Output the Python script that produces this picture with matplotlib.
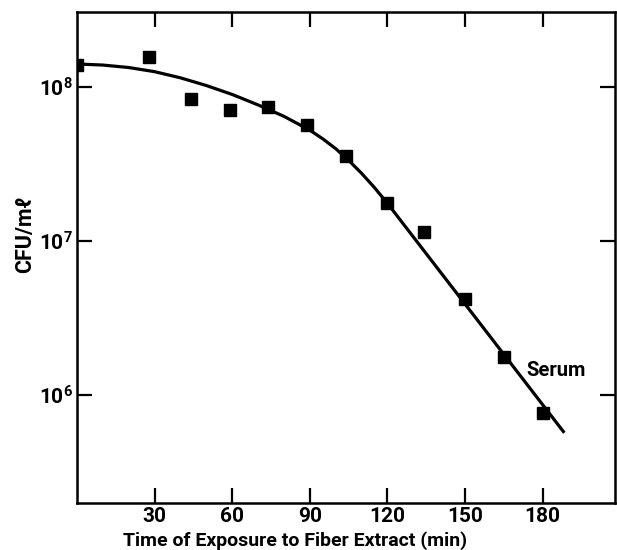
import numpy as np
import matplotlib
matplotlib.use('Agg')
import matplotlib.pyplot as plt

time_pts = [0, 28, 44, 59, 74, 89, 104, 120, 134, 150, 165, 180]
cfu_pts = [1.39e8, 1.57e8, 8.4e7, 7.1e7, 7.4e7, 5.66e7, 3.56e7, 1.77e7, 1.14e7, 4.2e6, 1.77e6, 7.6e5]

# fitted curve (log10 CFU/ml)
curve_t = [0, 10, 20, 30, 40, 50, 60, 70, 80, 90, 95, 100, 105, 110, 115, 120,
           130, 140, 150, 160, 170, 180, 188.4]
curve_log = [8.150, 8.143, 8.127, 8.100, 8.060, 8.010, 7.952, 7.884, 7.810, 7.720, 7.664, 7.600,
             7.524, 7.440, 7.347, 7.245, 7.027, 6.809, 6.591, 6.373, 6.155, 5.937, 5.754]

xticks = [30, 60, 90, 120, 150, 180]
yticks = [1e6, 1e7, 1e8]
ytick_labels = ['$10^6$', '$10^7$', '$10^8$']

plt.rcParams['font.family'] = ['Roboto', 'DejaVu Sans']
plt.rcParams['font.weight'] = 'bold'
plt.rcParams['mathtext.fontset'] = 'custom'
plt.rcParams['mathtext.bf'] = 'Roboto:bold'
plt.rcParams['mathtext.rm'] = 'Roboto:bold'
plt.rcParams['mathtext.default'] = 'bf'

fig = plt.figure(figsize=(6.17, 5.5), dpi=100)
ax = fig.add_axes([0.1248, 0.086, 0.872, 0.892])

ax.plot(curve_t, 10 ** np.array(curve_log), color='black', lw=2.3, solid_capstyle='butt', solid_joinstyle='round')
ax.plot(time_pts, cfu_pts, 's', color='black', ms=9)

ax.set_yscale('log')
ax.set_xlim(0, 208)
ax.set_ylim(10 ** 5.30, 10 ** 8.487)
ax.set_xticks(xticks)
ax.set_xticklabels([str(t) for t in xticks], fontsize=15)
ax.set_yticks(yticks)
ax.set_yticklabels(ytick_labels, fontsize=15)
ax.yaxis.set_minor_locator(matplotlib.ticker.NullLocator())
ax.tick_params(direction='in', length=11, width=1.6, top=True, right=True, pad=3)

for s in ax.spines.values():
    s.set_linewidth(1.8)

ax.set_xlabel('Time of Exposure to Fiber Extract (min)', fontsize=14, fontweight='bold')
ax.xaxis.set_label_coords(0.405, -0.058)
ax.set_ylabel('CFU/mℓ', fontsize=15.5, fontweight='bold')
ax.yaxis.set_label_coords(-0.076, 0.546)

ax.text(173.7, 1.45e6, 'Serum', fontsize=14.5, fontweight='bold', va='center', ha='left')

fig.savefig('out.png', dpi=100)
